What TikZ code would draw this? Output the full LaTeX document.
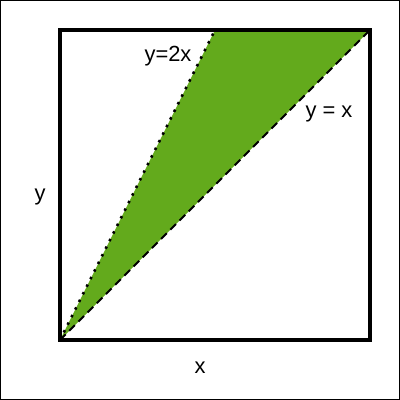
\documentclass[tikz,border=0pt]{standalone}
\usepackage{fontspec}
\setmainfont{Liberation Sans}
\definecolor{fillgreen}{RGB}{99,170,28}
\begin{document}
\begin{tikzpicture}[x=1bp,y=-1bp,
  lbl/.style={font=\fontsize{22}{26}\selectfont, inner sep=0pt}]
\useasboundingbox (0,0) rectangle (400,400);
\draw[line width=1bp] (0.5,0.5) rectangle (399.5,399.5);
\coordinate (o) at (60,340);
\coordinate (a) at (215,30);
\coordinate (b) at (370,30);
\fill[fillgreen] (o) -- (a) -- (b) -- cycle;
\draw[line width=2.5bp, dash pattern=on 2.5bp off 6bp] (o) -- (a);
\draw[line width=2bp, dash pattern=on 8bp off 5bp] (o) -- (b);
\draw[line width=3.2bp] (60,30) rectangle (370,340);
\node[lbl] (l2x) at (168,56) {y=2x};
\node[lbl] (lx) at (329,114) {y = x};
\node[lbl] (ly) at (40,197) {y};
\node[lbl] (lxx) at (200,368) {x};
\end{tikzpicture}
\end{document}
